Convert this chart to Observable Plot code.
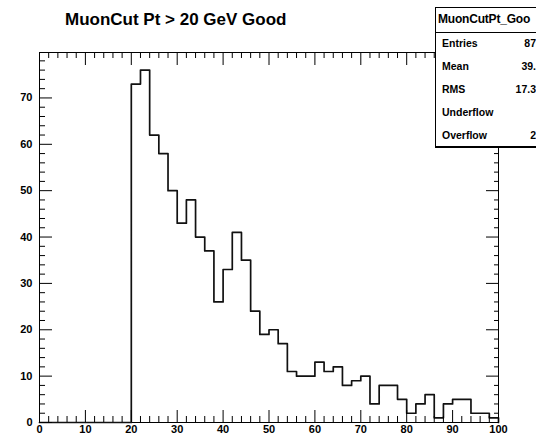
<!DOCTYPE html>
<html><head><meta charset="utf-8">
<script src="https://cdn.jsdelivr.net/npm/d3@7"></script>
<script src="https://cdn.jsdelivr.net/npm/@observablehq/plot@0.6"></script>
<style>
html,body{margin:0;padding:0;background:#fff;overflow:hidden;}
#wrap{position:relative;width:536px;height:435px;overflow:hidden;font-family:"Liberation Sans",Arial,Helvetica,sans-serif;color:#000;}
#chart{position:absolute;left:0;top:0;}
#title{position:absolute;left:65px;top:10px;font-size:17px;line-height:20px;font-weight:bold;white-space:nowrap;}
#stats{position:absolute;left:435px;top:7px;width:110px;height:138px;background:#fff;border:1px solid #000;box-shadow:0 1px 0 #000;}
#stats .hdr{position:absolute;left:2px;top:0;height:24px;border-bottom:1px solid #000;width:120px;font-size:12px;font-weight:bold;line-height:23px;white-space:nowrap;letter-spacing:-0.2px;}
#stats .line{position:absolute;left:0;top:24px;width:110px;border-top:1px solid #000;}
#stats .row{position:absolute;left:6px;width:94px;height:16px;font-size:10.5px;font-weight:bold;line-height:16px;white-space:nowrap;}
#stats .row .v{position:absolute;right:0;top:0;}
</style>
</head><body>
<div id="wrap">
  <div id="chart"></div>
  <div id="title"></div>
  <div id="stats"></div>
</div>
<script>
// ---- data ----
const titleText = "MuonCut Pt > 20 GeV Good";
const histNameShown = "MuonCutPt_Goo";   // visible part of "MuonCutPt_Good"
const binWidth = 2;
// counts per 2-GeV bin, from 0 to 100
const counts = [
  0,0,0,0,0,0,0,0,0,0,
  73,76,62,58,50,43,48,40,37,26,
  33,41,35,24,19,20,17,11,10,10,
  13,11,12,8,9,10,4,8,8,5,
  2,4,6,1,4,5,5,2,2,1
];
const statLabels = ["Entries","Mean","RMS","Underflow","Overflow"];
// visible parts of the stat values (box runs past the right edge)
const statValues = ["87","39.","17.3","","2"];
const xMajor = [0,10,20,30,40,50,60,70,80,90,100];
const yMajor = [0,10,20,30,40,50,60,70];
const xMinor = d3.range(0,101,2).filter(v => v % 10 !== 0);
const yMinor = d3.range(0,80,2).filter(v => v % 10 !== 0);

// step outline points
const steps = counts.map((c,i) => ({x: i*binWidth, y: c}));
steps.push({x: counts.length*binWidth, y: 0});

document.getElementById("title").textContent = titleText;
const stats = document.getElementById("stats");
const hdr = document.createElement("div"); hdr.className="hdr"; hdr.style.border="none";
hdr.textContent = histNameShown; stats.appendChild(hdr);
const ln = document.createElement("div"); ln.className="line"; stats.appendChild(ln);
statLabels.forEach((l,i) => {
  const r = document.createElement("div"); r.className = "row";
  r.style.top = (26.5 + i*23.2) + "px";
  r.textContent = l;
  const v = document.createElement("span"); v.className = "v"; v.textContent = statValues[i];
  r.appendChild(v);
  stats.appendChild(r);
});

const font = '"Liberation Sans",Arial,Helvetica,sans-serif';
const noText = () => "";
const plot = Plot.plot({
  width: 536, height: 435,
  marginLeft: 39, marginRight: 38, marginTop: 52, marginBottom: 13,
  x: {domain: [0, 100], label: null},
  y: {domain: [0, 79.8], label: null},
  style: {fontFamily: font, fontSize: "11px", fontWeight: "bold", background: "#fff", color: "#000"},
  marks: [
    Plot.frame({stroke: "#000", strokeWidth: 1}),
    Plot.line(steps, {x: "x", y: "y", curve: "step-after", stroke: "#111", strokeWidth: 1.7}),
    // bottom
    Plot.axisX({anchor: "bottom", ticks: xMajor, tickSize: -12, tickFormat: noText, label: null}),
    Plot.axisX({anchor: "bottom", ticks: xMinor, tickSize: -6, tickFormat: noText, label: null}),
    Plot.axisX({anchor: "bottom", ticks: xMajor, tickSize: 0, tickPadding: 2.5, tickFormat: d => String(d), label: null}),
    // top
    Plot.axisX({anchor: "top", ticks: xMajor, tickSize: -12, tickFormat: noText, label: null}),
    Plot.axisX({anchor: "top", ticks: xMinor, tickSize: -5, tickFormat: noText, label: null}),
    // left
    Plot.axisY({anchor: "left", ticks: yMajor, tickSize: -13, tickFormat: noText, label: null}),
    Plot.axisY({anchor: "left", ticks: yMinor, tickSize: -6, tickFormat: noText, label: null}),
    Plot.axisY({anchor: "left", ticks: yMajor, tickSize: 0, tickPadding: 7, tickFormat: d => String(d), label: null}),
    // right
    Plot.axisY({anchor: "right", ticks: yMajor, tickSize: -13, tickFormat: noText, label: null}),
    Plot.axisY({anchor: "right", ticks: yMinor, tickSize: -5, tickFormat: noText, label: null})
  ]
});
document.getElementById("chart").appendChild(plot);
</script>
</body></html>
